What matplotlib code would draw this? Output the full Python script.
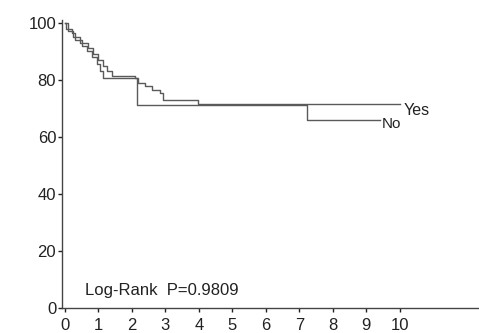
import numpy as np
import matplotlib.pyplot as plt

plt.rcParams['font.family'] = ['Liberation Sans', 'DejaVu Sans']

# Survival steps (time in years, survival %)
yes_t = [0, 0.1, 0.25, 0.45, 0.7, 0.85, 1.0, 1.15, 1.25, 1.4, 2.09, 2.19, 2.39, 2.59, 2.84, 2.93, 3.97, 10.0]
yes_s = [100, 97, 95, 93, 91, 89, 87, 85, 83, 81.5, 80.6, 78.8, 77.9, 76.5, 75.3, 73, 71.5, 71.5]

no_t = [0, 0.05, 0.2, 0.3, 0.5, 0.65, 0.8, 0.95, 1.05, 1.15, 2.14, 7.22, 9.4]
no_s = [100, 98, 96.5, 94, 92, 90, 88, 85.5, 83, 80.8, 71.3, 66, 66]

x_ticks = list(range(0, 11))
y_ticks = [0, 20, 40, 60, 80, 100]

fig = plt.figure(figsize=(4.79, 3.33), dpi=100)
ax = fig.add_axes([0.129, 0.075, 0.871, 0.865])

line_col = '#5a5a5a'
ax.step(yes_t, yes_s, where='post', color=line_col, lw=1.0)
ax.step(no_t, no_s, where='post', color=line_col, lw=1.0)

ax.text(10.1, 69.3, 'Yes', fontsize=11.5, va='center', ha='left', color='#222222')
ax.text(9.45, 64.4, 'No', fontsize=11, va='center', ha='left', color='#222222')
ax.text(0.6, 6.3, 'Log-Rank  P=0.9809', fontsize=12, va='center', ha='left', color='#222222')

ax.set_xlim(-0.09, 12.36)
ax.set_ylim(0, 101)
ax.set_xticks(x_ticks)
ax.set_yticks(y_ticks)
ax.tick_params(direction='out', length=3, width=1, labelsize=12, colors='#222222', pad=1)
ax.tick_params(axis='x', pad=4)

for side in ['top', 'right']:
    ax.spines[side].set_visible(False)
for side in ['left', 'bottom']:
    ax.spines[side].set_color('#444444')
    ax.spines[side].set_linewidth(1.0)

fig.savefig('out.png', dpi=100)
